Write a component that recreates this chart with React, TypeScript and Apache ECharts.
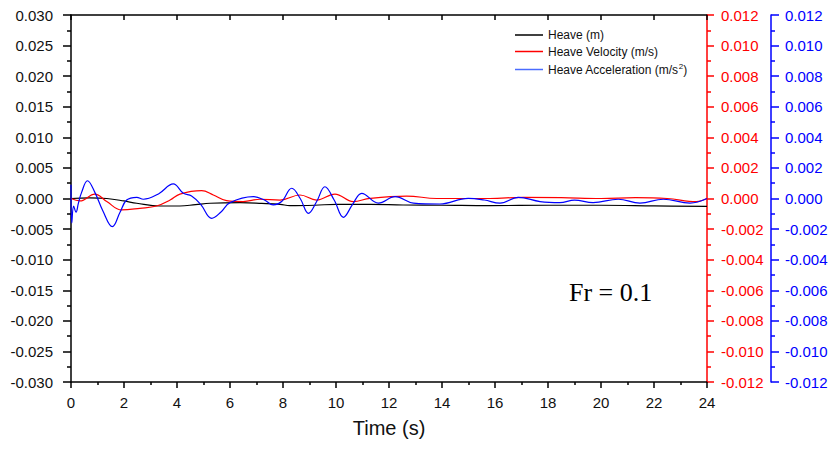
import React, { useEffect, useRef } from "react";
import * as echarts from "echarts";

const heaveT = [0, 0.7, 1.35, 2.0, 2.48, 3.36, 4.11, 4.7, 5.25, 6.38, 7.2, 7.89, 8.26, 9.2, 10.03, 11.28, 12.53, 14, 15.81, 18, 20, 22, 24];
const heaveV = [0, 0.0001, 0, -0.0004, -0.00078, -0.00123, -0.00123, -0.001, -0.00078, -0.00069, -0.0008, -0.00095, -0.00117, -0.0011, -0.00095, -0.00095, -0.00106, -0.0011, -0.00117, -0.0011, -0.0011, -0.0012, -0.0013];

const velT = [0, 0.34, 0.9, 1.35, 1.91, 2.6, 3.23, 3.74, 4.11, 4.93, 5.37, 5.87, 6.5, 7.13, 7.89, 8.64, 9.27, 9.96, 10.65, 11.28, 12.67, 13.8, 15.8, 17.06, 18.5, 20, 21.3, 22.5, 23.6, 24];
const velV = [0, -0.00016, 0.00029, -0.0002, -0.00075, -0.00064, -0.00049, -0.0001, 0.00029, 0.00051, 0.00023, -0.00014, -0.0002, -0.00005, -0.0001, 0.00023, -0.0001, 0.00029, -0.0002, 0.00001, 0.00016, 0.0, 0.0, 0.00008, 0.00006, 0.0, 0.00006, 0.0, -0.0002, 0.0];

const accT = [0, 0.03, 0.1, 0.19, 0.28, 0.4, 0.62, 0.9, 1.2, 1.56, 1.85, 2.1, 2.48, 2.73, 3.3, 3.86, 4.24, 4.55, 4.9, 5.31, 5.65, 6.0, 6.88, 7.3, 7.63, 7.95, 8.33, 8.65, 8.96, 9.27, 9.58, 9.93, 10.28, 10.62, 10.97, 11.6, 12.23, 12.92, 13.92, 14.99, 15.6, 16.19, 16.88, 17.7, 18.45, 19.0, 19.7, 20.65, 21.47, 22.35, 23.36, 24];
const accV = [0.0009, -0.0016, -0.0005, -0.0009, -0.0003, 0.0004, 0.00116, 0.0004, -0.0008, -0.00184, -0.0009, -0.0001, 0.00008, -0.00005, 0.0003, 0.00095, 0.00034, 0.00016, -0.0004, -0.0013, -0.0009, -0.00027, 0.00012, -0.0001, -0.00042, -0.0002, 0.00067, 0.0, -0.00097, -0.0002, 0.00077, -0.0001, -0.00123, -0.0004, 0.00034, -0.0003, 0.00012, -0.0003, -0.00036, 0.00001, -0.0001, -0.0003, 0.00008, -0.0002, -0.00027, -0.0001, -0.00027, -0.00005, -0.0003, -0.00005, -0.0003, 0.0];

const seriesNames = ["Heave (m)", "Heave Velocity (m/s)", "Heave Acceleration (m/s2)"];
const FONT = "'Liberation Sans', Arial, sans-serif";

const fmt3 = (v: number) => (Math.abs(v) < 1e-9 ? 0 : v).toFixed(3);
const zip = (t: number[], v: number[]) => t.map((x, i) => [x, v[i]]);

export default function App() {
  const ref = useRef<HTMLDivElement>(null);
  useEffect(() => {
    if (!ref.current) return;
    const chart = echarts.init(ref.current, undefined, { renderer: "svg" });
    const yCommon = (color: string, labelColor: string, min: number, max: number, interval: number, margin: number, tick: number) => ({
      type: "value",
      min,
      max,
      interval,
      axisLine: { show: true, onZero: false, lineStyle: { color, width: 1.5 } },
      axisTick: { show: true, inside: false, length: tick, lineStyle: { color, width: 1.5 } },
      minorTick: { show: true, splitNumber: 2, length: 4, lineStyle: { color, width: 1.5 } },
      splitLine: { show: false },
      minorSplitLine: { show: false },
      axisLabel: { color: labelColor, fontSize: 15, fontFamily: FONT, margin, formatter: fmt3 },
    });
    chart.setOption({
      animation: false,
      backgroundColor: "#ffffff",
      textStyle: { fontFamily: FONT },
      grid: { left: 71, right: 130, top: 15, bottom: 68 },
      legend: {
        show: true,
        orient: "vertical",
        left: 510,
        top: 24,
        itemWidth: 28,
        itemHeight: 1.5,
        itemGap: 4.5,
        icon: "rect",
        data: seriesNames,
        textStyle: { fontSize: 12, color: "#111", fontFamily: FONT, rich: { sup: { fontSize: 8, verticalAlign: "top", padding: [0, 0, 7, 0] } } },
        formatter: (n: string) => (n === seriesNames[2] ? "Heave Acceleration (m/s{sup|2})" : n),
      },
      xAxis: [
        {
          type: "value",
          min: 0,
          max: 24,
          interval: 2,
          position: "bottom",
          name: "Time (s)",
          nameLocation: "middle",
          nameGap: 36,
          nameTextStyle: { fontSize: 20, color: "#111", fontFamily: FONT },
          axisLine: { show: true, onZero: false, lineStyle: { color: "#000", width: 1.5 } },
          axisTick: { show: true, inside: false, length: 6, lineStyle: { color: "#000", width: 1.5 } },
          minorTick: { show: true, splitNumber: 2, length: 3, lineStyle: { color: "#000", width: 1.5 } },
          splitLine: { show: false },
          axisLabel: { color: "#111", fontSize: 15, fontFamily: FONT, margin: 13 },
        },
        {
          type: "value",
          min: 0,
          max: 24,
          interval: 2,
          position: "top",
          axisLine: { show: true, onZero: false, lineStyle: { color: "#000", width: 1.5 } },
          axisTick: { show: true, inside: true, length: 5, lineStyle: { color: "#000", width: 1.5 } },
          splitLine: { show: false },
          axisLabel: { show: false },
        },
      ],
      yAxis: [
        { ...yCommon("#000", "#111", -0.03, 0.03, 0.005, 18, 8), position: "left" },
        { ...yCommon("#ff0000", "#ff0000", -0.012, 0.012, 0.002, 14, 7), position: "right" },
        { ...yCommon("#0000ff", "#0000ff", -0.012, 0.012, 0.002, 14, 8), position: "right", offset: 64 },
      ],
      graphic: [
        {
          type: "text",
          left: 569,
          top: 279,
          style: { text: "Fr = 0.1", fontSize: 26, fontFamily: "'Liberation Serif', 'Times New Roman', serif", fill: "#000" },
        },
      ],
      series: [
        {
          name: seriesNames[0],
          type: "line",
          xAxisIndex: 0,
          yAxisIndex: 0,
          data: zip(heaveT, heaveV),
          smooth: 0.4,
          showSymbol: false,
          lineStyle: { color: "#000", width: 1.2 },
          itemStyle: { color: "#000" },
          z: 3,
        },
        {
          name: seriesNames[1],
          type: "line",
          xAxisIndex: 0,
          yAxisIndex: 1,
          data: zip(velT, velV),
          smooth: 0.4,
          showSymbol: false,
          lineStyle: { color: "#ff0000", width: 1.2 },
          itemStyle: { color: "#ff0000" },
          z: 4,
        },
        {
          name: seriesNames[2],
          type: "line",
          xAxisIndex: 0,
          yAxisIndex: 2,
          data: zip(accT, accV),
          smooth: 0.4,
          showSymbol: false,
          lineStyle: { color: "#0000ff", width: 1.2 },
          itemStyle: { color: "#4a6cff" },
          z: 5,
        },
      ],
    });
    return () => chart.dispose();
  }, []);
  return <div ref={ref} style={{ width: 837, height: 450, position: "absolute", left: 0, top: 0 }} />;
}
